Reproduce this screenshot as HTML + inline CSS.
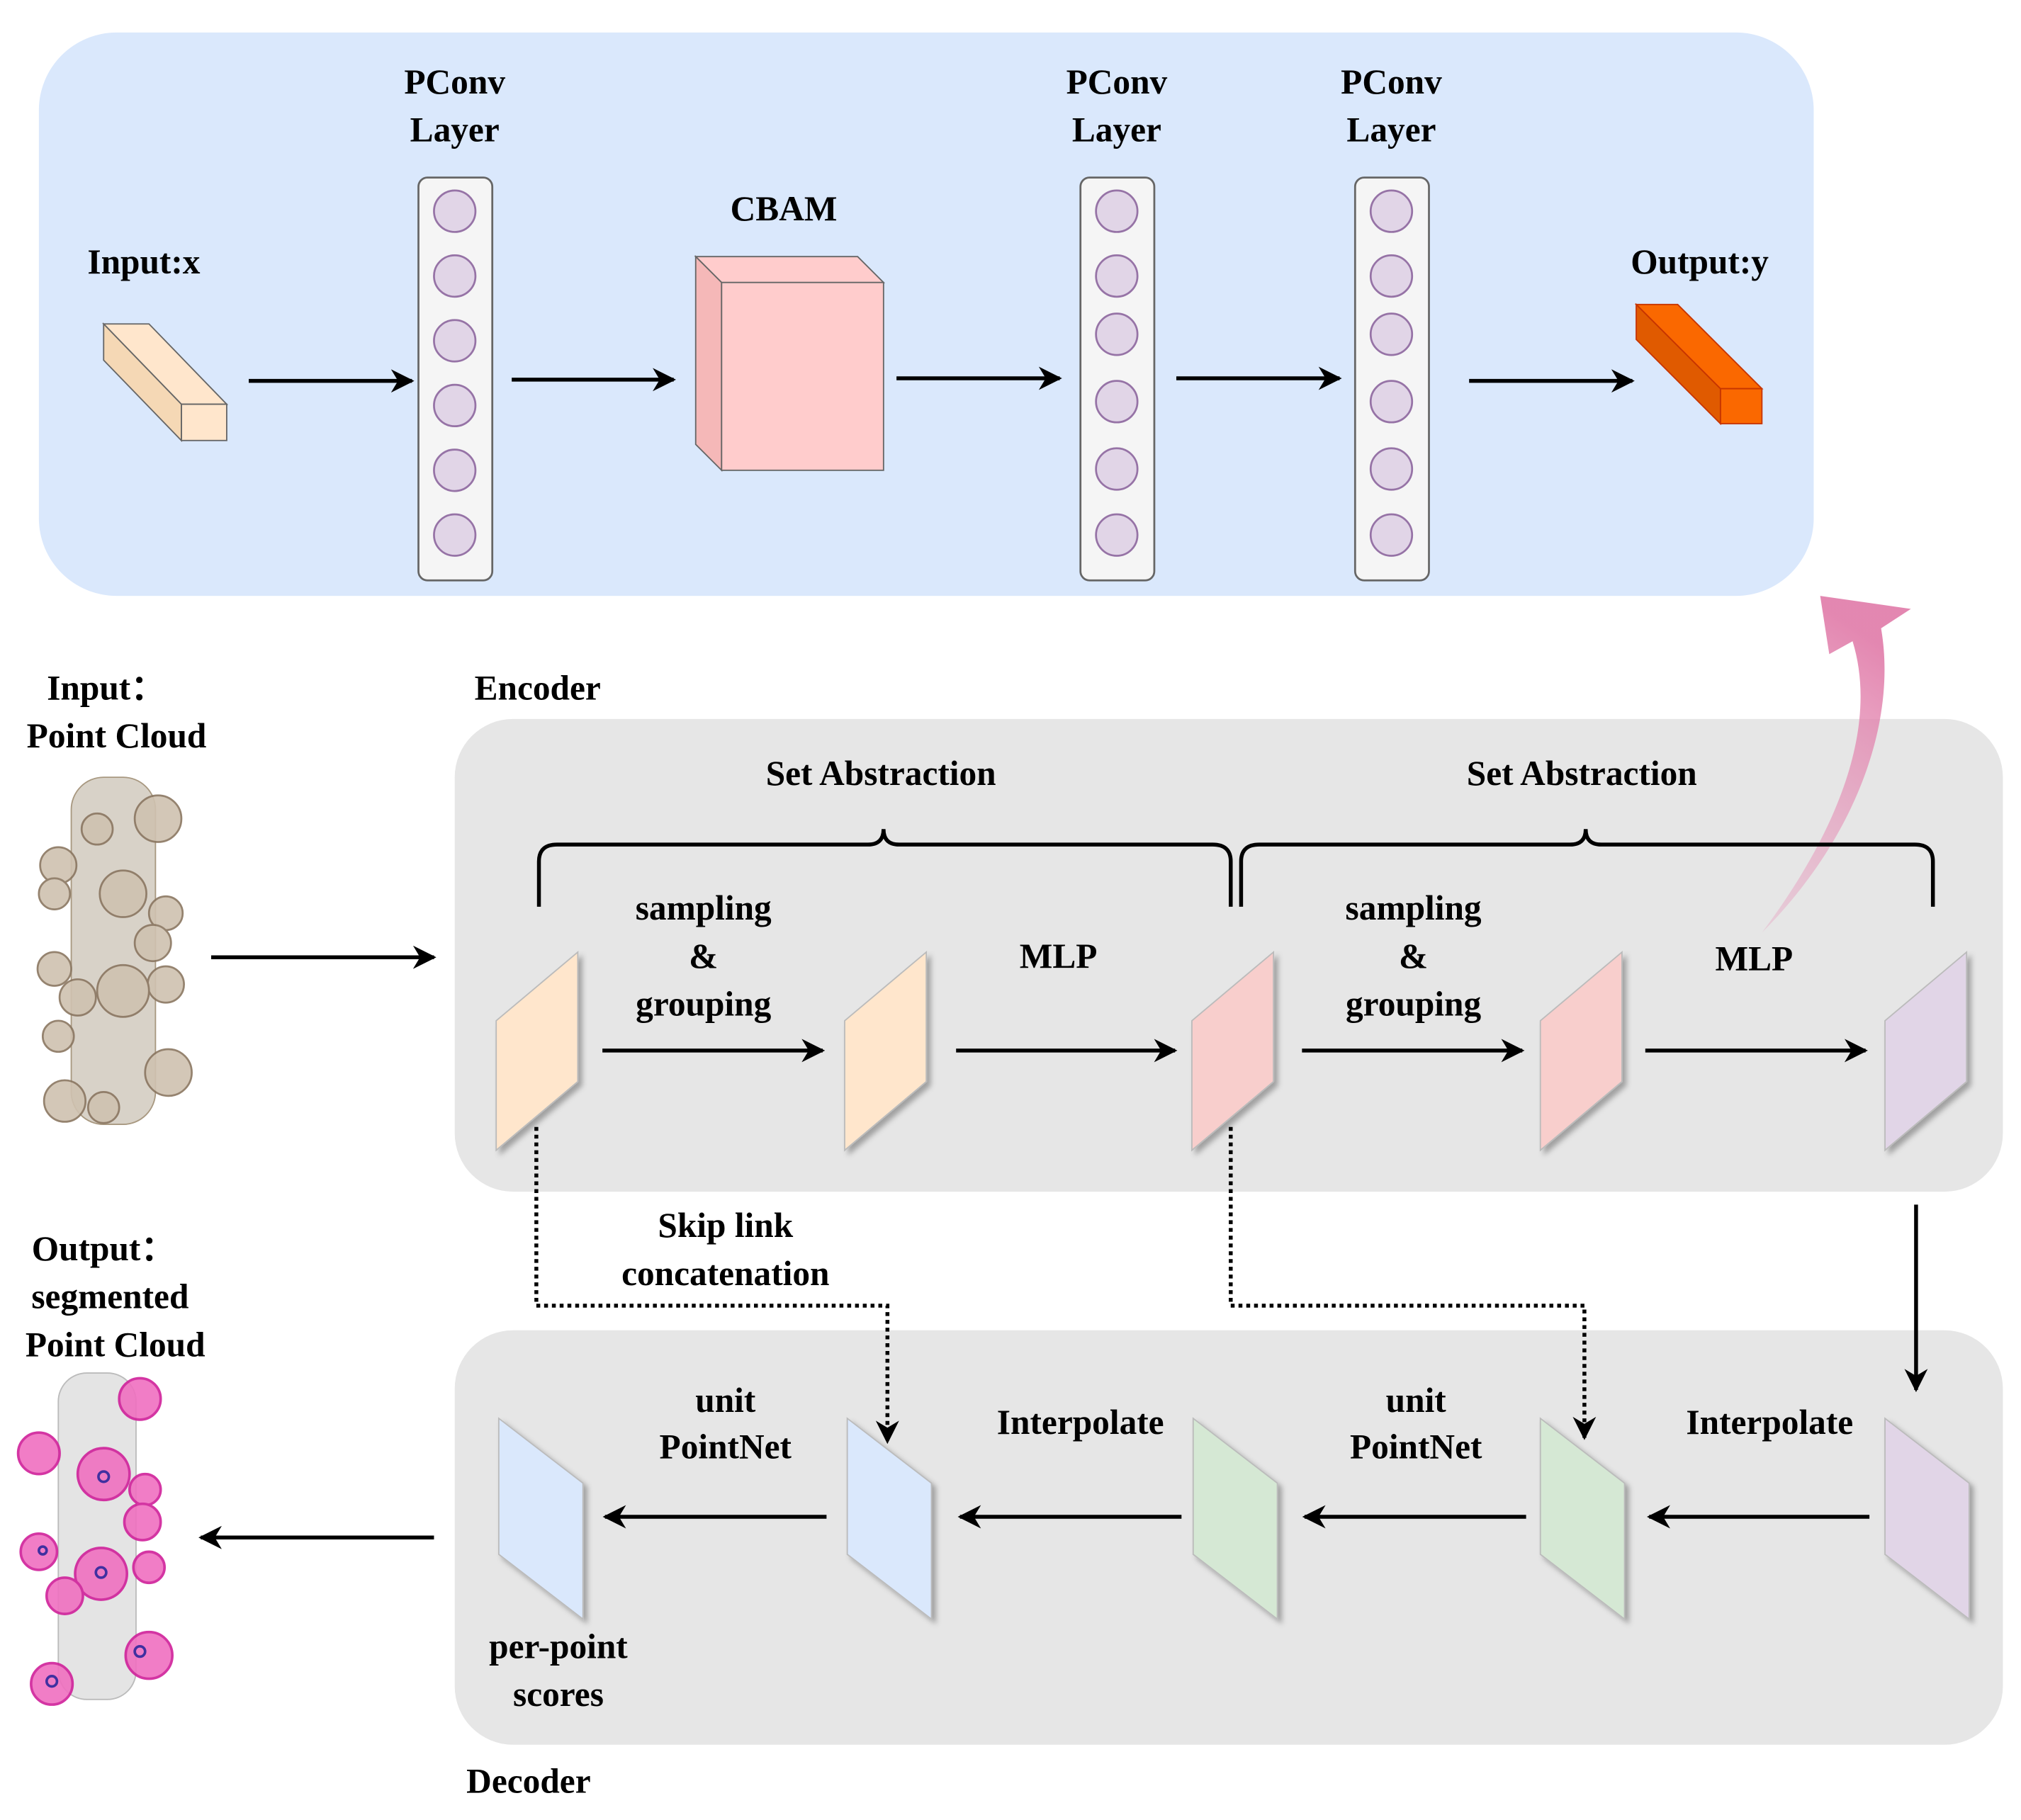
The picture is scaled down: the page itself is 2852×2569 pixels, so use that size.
<!DOCTYPE html>
<html><head><meta charset="utf-8"><style>html,body{margin:0;padding:0;background:#fff}svg{display:block}</style></head>
<body>
<svg xmlns="http://www.w3.org/2000/svg" width="2852" height="2569" viewBox="0 0 1560 1405">
<defs>
<marker id="ah" viewBox="0 0 10 10" refX="9" refY="5" markerWidth="6" markerHeight="6" orient="auto"><path d="M0,0 L10,5 L0,10 L3,5 z" fill="#000"/></marker>
<linearGradient id="pg" x1="0" y1="1" x2="0.3" y2="0"><stop offset="0" stop-color="#e8a0c0" stop-opacity="0.35"/><stop offset="1" stop-color="#e07aa8" stop-opacity="0.9"/></linearGradient>
<filter id="sh"><feDropShadow dx="3" dy="3" stdDeviation="2" flood-opacity="0.3"/></filter>
</defs>
<style>text{font-family:"Liberation Serif",serif;font-weight:bold;font-size:27px;text-anchor:middle;fill:#000}</style>

<!-- top panel -->
<rect x="30" y="25" width="1370" height="435" rx="60" fill="#dae8fc"/>
<text x="111" y="211">Input:x</text>
<polygon points="80,250 115,250 175,312 140,312" fill="#ffe6cc" stroke="#666"/>
<rect x="140" y="312" width="35" height="28" fill="#ffe6cc" stroke="#666"/>
<polygon points="80,250 140,312 140,340 80,278" fill="#f5d8b5" stroke="#666"/>
<g stroke="#000" stroke-width="3" marker-end="url(#ah)">
<line x1="192" y1="294" x2="318" y2="294"/><line x1="395" y1="293" x2="520" y2="293"/>
<line x1="692" y1="292" x2="818" y2="292"/><line x1="908" y1="292" x2="1034" y2="292"/>
<line x1="1134" y1="294" x2="1260" y2="294"/>
</g>
<g fill="#e1d5e7" stroke="#9673a6" stroke-width="1.5">
<rect x="323" y="137" width="57" height="311" rx="7" fill="#f5f5f5" stroke="#666"/>
<circle cx="351" cy="163" r="16"/><circle cx="351" cy="213" r="16"/><circle cx="351" cy="263" r="16"/><circle cx="351" cy="313" r="16"/><circle cx="351" cy="363" r="16"/><circle cx="351" cy="413" r="16"/>
<rect x="834" y="137" width="57" height="311" rx="7" fill="#f5f5f5" stroke="#666"/>
<circle cx="862" cy="163" r="16"/><circle cx="862" cy="213" r="16"/><circle cx="862" cy="258" r="16"/><circle cx="862" cy="310" r="16"/><circle cx="862" cy="362" r="16"/><circle cx="862" cy="413" r="16"/>
<rect x="1046" y="137" width="57" height="311" rx="7" fill="#f5f5f5" stroke="#666"/>
<circle cx="1074" cy="163" r="16"/><circle cx="1074" cy="213" r="16"/><circle cx="1074" cy="258" r="16"/><circle cx="1074" cy="310" r="16"/><circle cx="1074" cy="362" r="16"/><circle cx="1074" cy="413" r="16"/>
</g>
<text x="351" y="72">PConv</text><text x="351" y="109">Layer</text>
<text x="862" y="72">PConv</text><text x="862" y="109">Layer</text>
<text x="1074" y="72">PConv</text><text x="1074" y="109">Layer</text>
<text x="605" y="170">CBAM</text>
<polygon points="537,198 662,198 682,218 557,218" fill="#ffcccc" stroke="#666"/>
<polygon points="537,198 557,218 557,363 537,343" fill="#f5b8b8" stroke="#666"/>
<rect x="557" y="218" width="125" height="145" fill="#ffcccc" stroke="#666"/>
<text x="1312" y="211">Output:y</text>
<polygon points="1263,235 1295,235 1360,300 1328,300" fill="#fa6800" stroke="#c73500"/>
<rect x="1328" y="300" width="32" height="27" fill="#fa6800" stroke="#c73500"/>
<polygon points="1263,235 1328,300 1328,327 1263,262" fill="#e05a00" stroke="#c73500"/>

<!-- panels -->
<rect x="351" y="555" width="1195" height="365" rx="45" fill="#e6e6e6"/>
<rect x="351" y="1027" width="1195" height="320" rx="45" fill="#e6e6e6"/>

<!-- pink curve (on top of panel) -->
<path d="M1360,720 C1420,640 1450,560 1430,495 L1412,505 L1405,460 L1475,470 L1452,485 C1465,560 1430,650 1360,720 z" fill="url(#pg)"/>

<text x="415" y="540">Encoder</text>
<text x="408" y="1384">Decoder</text>
<text x="680" y="606">Set Abstraction</text>
<text x="1221" y="606">Set Abstraction</text>
<g fill="none" stroke="#000" stroke-width="3">
<path d="M416,700 V665 Q416,652 430,652 H670 Q682,652 682,640 Q682,652 694,652 H936 Q950,652 950,665 V700"/>
<path d="M958,700 V665 Q958,652 972,652 H1212 Q1224,652 1224,640 Q1224,652 1236,652 H1478 Q1492,652 1492,665 V700"/>
</g>
<g stroke="#bbb" stroke-width="1" filter="url(#sh)">
<polygon points="383,788 446,735 446,835 383,888" fill="#ffe6cc"/>
<polygon points="652,788 715,735 715,835 652,888" fill="#ffe6cc"/>
<polygon points="920,788 983,735 983,835 920,888" fill="#f8cecc"/>
<polygon points="1189,788 1252,735 1252,835 1189,888" fill="#f8cecc"/>
<polygon points="1455,788 1518,735 1518,835 1455,888" fill="#e1d5e7"/>
<polygon points="385,1095 450,1145 450,1250 385,1200" fill="#dae8fc"/>
<polygon points="654,1095 719,1145 719,1250 654,1200" fill="#dae8fc"/>
<polygon points="921,1095 986,1145 986,1250 921,1200" fill="#d5e8d4"/>
<polygon points="1189,1095 1254,1145 1254,1250 1189,1200" fill="#d5e8d4"/>
<polygon points="1455,1095 1520,1145 1520,1250 1455,1200" fill="#e1d5e7"/>
</g>
<g stroke="#000" stroke-width="3" marker-end="url(#ah)">
<line x1="465" y1="811" x2="635" y2="811"/><line x1="738" y1="811" x2="907" y2="811"/>
<line x1="1005" y1="811" x2="1175" y2="811"/><line x1="1270" y1="811" x2="1440" y2="811"/>
<line x1="638" y1="1171" x2="467" y2="1171"/><line x1="912" y1="1171" x2="741" y2="1171"/>
<line x1="1178" y1="1171" x2="1007" y2="1171"/><line x1="1443" y1="1171" x2="1273" y2="1171"/>
<line x1="163" y1="739" x2="335" y2="739"/><line x1="335" y1="1187" x2="155" y2="1187"/>
<line x1="1479" y1="930" x2="1479" y2="1073"/>
</g>
<g fill="none" stroke="#000" stroke-width="3" stroke-dasharray="3,3" marker-end="url(#ah)">
<path d="M414,870 V1008 H685 V1113"/>
<path d="M950,870 V1008 H1223 V1110"/>
</g>
<text x="543" y="710">sampling</text><text x="543" y="747">&amp;</text><text x="543" y="784">grouping</text>
<text x="817" y="747">MLP</text>
<text x="1091" y="710">sampling</text><text x="1091" y="747">&amp;</text><text x="1091" y="784">grouping</text>
<text x="1354" y="749">MLP</text>
<text x="560" y="955">Skip link</text><text x="560" y="992">concatenation</text>
<text x="560" y="1090">unit</text><text x="560" y="1126">PointNet</text>
<text x="834" y="1107">Interpolate</text>
<text x="1093" y="1090">unit</text><text x="1093" y="1126">PointNet</text>
<text x="1366" y="1107">Interpolate</text>
<text x="431" y="1280">per-point</text><text x="431" y="1317">scores</text>

<text x="82" y="540">Input：</text><text x="90" y="577">Point Cloud</text>
<text x="80" y="973">Output：</text><text x="85" y="1010">segmented</text><text x="89" y="1047">Point Cloud</text>

<!-- input cloud -->
<rect x="55" y="600" width="65" height="268" rx="25" fill="#d8d2c8" stroke="#a89880"/>
<g fill="#cfc2b0" stroke="#8a7660" stroke-width="1.5" opacity="0.9">
<circle cx="122" cy="632" r="18"/><circle cx="45" cy="668" r="14"/><circle cx="42" cy="690" r="12"/><circle cx="95" cy="690" r="18"/>
<circle cx="128" cy="705" r="13"/><circle cx="118" cy="728" r="14"/><circle cx="42" cy="748" r="13"/><circle cx="128" cy="760" r="14"/>
<circle cx="95" cy="765" r="20"/><circle cx="60" cy="770" r="14"/><circle cx="45" cy="800" r="12"/><circle cx="130" cy="828" r="18"/>
<circle cx="50" cy="850" r="16"/><circle cx="80" cy="855" r="12"/><circle cx="75" cy="640" r="12"/>
</g>
<!-- output cloud -->
<rect x="45" y="1060" width="60" height="252" rx="22" fill="#e4e4e4" stroke="#bbb"/>
<g fill="#f070c0" stroke="#d0209a" stroke-width="2" opacity="0.9">
<circle cx="108" cy="1080" r="16"/><circle cx="30" cy="1122" r="16"/><circle cx="80" cy="1138" r="20"/><circle cx="112" cy="1150" r="12"/>
<circle cx="110" cy="1175" r="14"/><circle cx="30" cy="1198" r="14"/><circle cx="78" cy="1215" r="20"/><circle cx="115" cy="1210" r="12"/>
<circle cx="50" cy="1232" r="14"/><circle cx="115" cy="1278" r="18"/><circle cx="40" cy="1300" r="16"/>
</g>
<g fill="none" stroke="#4030a0" stroke-width="2"><circle cx="80" cy="1140" r="4"/><circle cx="78" cy="1214" r="4"/><circle cx="108" cy="1275" r="4"/><circle cx="40" cy="1298" r="4"/><circle cx="33" cy="1197" r="3"/></g>
</svg>
</body></html>
